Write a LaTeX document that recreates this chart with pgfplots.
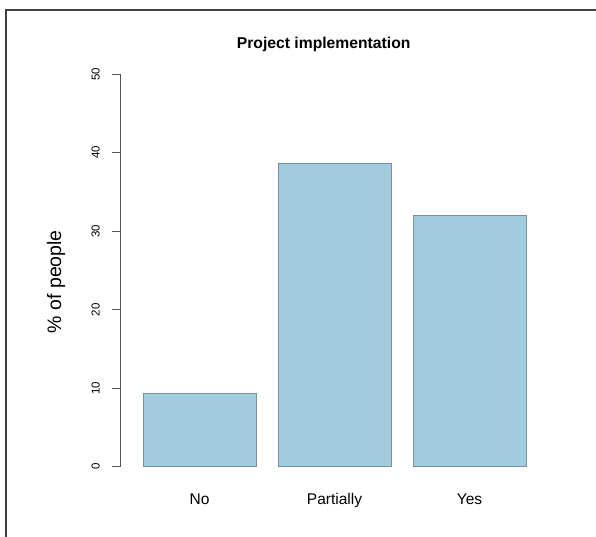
\documentclass[border=0pt]{standalone}
\usepackage{fontspec}
\setmainfont{Liberation Sans}
\usepackage{pgfplots}
\pgfplotsset{compat=1.18}
\definecolor{barfill}{RGB}{161,204,223}
\definecolor{bardraw}{RGB}{125,145,155}
\definecolor{axgray}{RGB}{85,85,85}
\begin{document}
\begin{tikzpicture}[x=1pt,y=1pt]
\useasboundingbox (-120,-70.3) rectangle (476,466.7);
% outer frame (top and left edges only)
\draw[line width=1.2pt,black!75] (-114,-70.3) -- (-114,456.7) -- (476,456.7);
\begin{axis}[
  at={(0,0)}, anchor=south west,
  scale only axis, width=429pt, height=392.7pt,
  xmin=-0.589, xmax=2.589, ymin=0, ymax=50,
  axis lines=left, axis line style={-, axgray, line width=0.8pt},
  x axis line style={draw=none},
  xtick={0,1,2}, xticklabels={No, Partially, Yes},
  major x tick style={draw=none},
  xticklabel style={anchor=base, yshift=-30.3pt, font=\fontsize{15.5}{18}\selectfont},
  ytick={0,10,20,30,40,50},
  yticklabel={\pgfmathprintnumber{\tick}},
  tick align=outside, major tick length=8pt,
  major y tick style={axgray, line width=0.8pt},
  yticklabel style={rotate=90, anchor=south, inner sep=0pt, font=\fontsize{11.5}{13}\selectfont},
  yticklabel shift=12pt,
  /pgf/number format/assume math mode=true,
  title={Project implementation},
  title style={at={(axis description cs:0.4748,1.0484)}, anchor=base, font=\bfseries\fontsize{15.7}{18}\selectfont},
  ylabel={\% of people},
  ylabel style={at={(axis description cs:-0.1375,0.471)}, anchor=base, font=\fontsize{19.5}{22}\selectfont},
  ybar, bar width=0.837, bar shift=0pt,
  clip=false,
]
\addplot[fill=barfill, draw=bardraw, line width=0.8pt] coordinates {(0,9.33) (1,38.67) (2,32.0)};
\end{axis}
\end{tikzpicture}
\end{document}
